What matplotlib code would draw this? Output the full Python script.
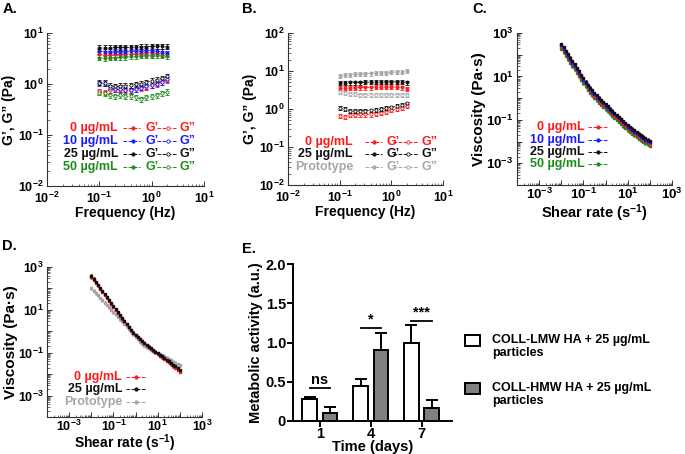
import matplotlib
matplotlib.use("Agg")
import matplotlib.pyplot as plt
from matplotlib.lines import Line2D
from matplotlib.patches import Rectangle
from matplotlib.ticker import LogLocator, FuncFormatter, NullFormatter
import numpy as np

plt.rcParams['font.family'] = ['Liberation Sans', 'DejaVu Sans']
plt.rcParams['font.weight'] = 'bold'
plt.rcParams['axes.labelweight'] = 'bold'
plt.rcParams['mathtext.fontset'] = 'custom'
plt.rcParams['mathtext.rm'] = 'Liberation Sans:bold'
plt.rcParams['mathtext.it'] = 'Liberation Sans:bold:italic'
plt.rcParams['mathtext.bf'] = 'Liberation Sans:bold'
plt.rcParams['mathtext.default'] = 'rm'

W, H = 685, 454

# ---------------- data ----------------
freq = [0.1, 0.126, 0.158, 0.2, 0.251, 0.316, 0.398, 0.501, 0.631, 0.794, 1.0, 1.26, 1.58, 2.0]

# panel A: G' (storage) and G'' (loss) for 0, 10, 25, 50 ug/mL
A_labels = ["0 µg/mL", "10 µg/mL", "25 µg/mL", "50 µg/mL"]
A_gp_0 = [3.8, 3.7, 3.7, 3.8, 3.8, 3.9, 3.9, 4.0, 4.0, 4.1, 4.1, 4.0, 3.9, 3.8]
A_gp_10 = [4.4, 4.3, 4.3, 4.3, 4.3, 4.3, 4.4, 4.4, 4.4, 4.5, 4.5, 4.4, 4.3, 4.0]
A_gp_25 = [5.1, 5.1, 5.1, 5.2, 5.2, 5.2, 5.2, 5.3, 5.4, 5.4, 5.5, 5.5, 5.5, 5.4]
A_gp_50 = [3.3, 3.2, 3.3, 3.3, 3.4, 3.4, 3.5, 3.5, 3.6, 3.6, 3.6, 3.7, 3.6, 3.5]
A_gpp_0 = [0.72, 0.68, 0.75, 0.78, 0.78, 0.76, 0.74, 0.80, 0.84, 0.88, 0.94, 1.00, 1.08, 1.20]
A_gpp_10 = [1.03, 1.02, 0.85, 0.80, 0.80, 0.78, 0.76, 0.80, 0.85, 0.90, 0.96, 1.02, 1.10, 1.25]
A_gpp_25 = [1.07, 1.05, 0.92, 0.90, 0.92, 0.93, 0.95, 0.98, 1.02, 1.08, 1.15, 1.22, 1.30, 1.42]
A_gpp_50 = [0.68, 0.66, 0.60, 0.58, 0.60, 0.57, 0.58, 0.55, 0.50, 0.55, 0.57, 0.60, 0.66, 0.70]
A_err = 0.12

# panel B: 0 ug/mL, 25 ug/mL and prototype
B_labels = ["0 µg/mL", "25 µg/mL", "Prototype"]
B_gp_0 = [3.6, 3.5, 3.6, 3.6, 3.7, 3.7, 3.7, 3.8, 3.8, 3.8, 3.8, 3.8, 3.7, 3.4]
B_gp_25 = [4.9, 4.9, 5.0, 5.0, 5.0, 5.1, 5.1, 5.1, 5.2, 5.2, 5.2, 5.2, 5.2, 5.0]
B_gp_proto = [7.4, 7.8, 8.0, 8.2, 8.3, 8.5, 8.6, 8.8, 8.9, 9.1, 9.3, 9.5, 9.7, 9.8]
B_gpp_0 = [0.66, 0.62, 0.68, 0.70, 0.72, 0.72, 0.72, 0.75, 0.80, 0.85, 0.92, 1.00, 1.08, 1.22]
B_gpp_25 = [1.05, 1.00, 0.88, 0.88, 0.90, 0.90, 0.92, 0.95, 0.98, 1.05, 1.10, 1.18, 1.25, 1.40]
B_gpp_proto = [2.75, 2.60, 2.50, 2.45, 2.40, 2.35, 2.35, 2.35, 2.35, 2.35, 2.35, 2.40, 2.40, 2.40]
B_err = 0.12

# panels C, D: viscosity vs shear rate
shear = [0.01, 0.0126, 0.0158, 0.02, 0.0251, 0.0316, 0.0398, 0.0501, 0.0631, 0.0794,
         0.1, 0.126, 0.158, 0.2, 0.251, 0.316, 0.398, 0.501, 0.631, 0.794,
         1.0, 1.26, 1.58, 2.0, 2.51, 3.16, 3.98, 5.01, 6.31, 7.94,
         10, 12.6, 15.8, 20, 25.1, 31.6, 39.8, 50.1, 63.1, 79.4, 100]

C_labels = ["0 µg/mL", "10 µg/mL", "25 µg/mL", "50 µg/mL"]
C_visc_0 = [234, 162, 112, 77.7, 53.6, 37.1, 26.3, 18.1, 12.6, 8.66,
            6.02, 4.26, 3.01, 2.23, 1.69, 1.29, 1.00, 0.777, 0.616, 0.489,
            0.389, 0.309, 0.245, 0.195, 0.155, 0.126, 0.0999, 0.0814, 0.0645, 0.0524,
            0.0416, 0.0346, 0.0288, 0.0240, 0.0204, 0.0169, 0.0144, 0.0123, 0.0104, 0.0091, 0.0079]
C_visc_10 = [275, 191, 131, 91.4, 63.0, 43.6, 30.9, 21.3, 14.8, 10.2,
             7.07, 5.00, 3.54, 2.63, 1.99, 1.51, 1.17, 0.914, 0.724, 0.575,
             0.457, 0.363, 0.288, 0.229, 0.182, 0.148, 0.117, 0.0957, 0.0758, 0.0616,
             0.0489, 0.0407, 0.0338, 0.0282, 0.0239, 0.0199, 0.0170, 0.0144, 0.0123, 0.0107, 0.0093]
C_visc_25 = [316, 219, 151, 105, 72.4, 50.1, 35.5, 24.5, 17.0, 11.7,
             8.13, 5.75, 4.07, 3.02, 2.29, 1.74, 1.35, 1.05, 0.832, 0.661,
             0.525, 0.417, 0.331, 0.263, 0.209, 0.170, 0.135, 0.110, 0.0871, 0.0708,
             0.0562, 0.0468, 0.0389, 0.0324, 0.0275, 0.0229, 0.0195, 0.0166, 0.0141, 0.0123, 0.0107]
C_visc_50 = [190, 131, 90.6, 63.0, 43.4, 30.1, 21.3, 14.7, 10.2, 7.02,
             4.88, 3.45, 2.44, 1.81, 1.37, 1.04, 0.81, 0.63, 0.499, 0.397,
             0.315, 0.250, 0.199, 0.158, 0.125, 0.102, 0.081, 0.066, 0.0523, 0.0425,
             0.0337, 0.0281, 0.0233, 0.0194, 0.0165, 0.0137, 0.0117, 0.0100, 0.0085, 0.0074, 0.0064]

D_labels = ["0 µg/mL", "25 µg/mL", "Prototype"]
D_visc_0 = [330, 250, 185, 138, 98, 71, 52, 37, 27, 19.5,
            14.2, 10.3, 7.5, 5.4, 3.95, 2.92, 2.15, 1.52, 1.12, 0.85,
            0.66, 0.52, 0.415, 0.335, 0.272, 0.221, 0.183, 0.151, 0.126, 0.106,
            0.088, 0.074, 0.062, 0.051, 0.043, 0.0355, 0.0292, 0.0240, 0.0198, 0.0163, 0.0128]
D_visc_25 = [398, 282, 200, 145, 102, 74.1, 53.7, 38.0, 27.5, 20.0,
             14.5, 10.5, 7.59, 5.50, 3.98, 2.95, 2.19, 1.55, 1.15, 0.871,
             0.676, 0.537, 0.427, 0.347, 0.282, 0.229, 0.191, 0.158, 0.132, 0.112,
             0.0933, 0.0794, 0.0676, 0.0562, 0.0479, 0.0398, 0.0331, 0.0275, 0.0229, 0.0191, 0.0151]
D_visc_proto = [100, 77.6, 60.3, 46.8, 36.3, 28.2, 21.9, 17.0, 13.2, 10.2,
                7.94, 6.17, 4.79, 3.72, 2.88, 2.24, 1.74, 1.32, 1.00, 0.741,
                0.550, 0.417, 0.324, 0.257, 0.214, 0.182, 0.158, 0.138, 0.123, 0.110,
                0.0977, 0.0871, 0.0776, 0.0676, 0.0589, 0.0513, 0.0447, 0.0389, 0.0339, 0.0295, 0.0257]
visc_err = 0.15

# panel E: metabolic activity
days = ["1", "4", "7"]
lmw_mean = [0.28, 0.44, 0.99]
lmw_err = [0.02, 0.10, 0.23]
hmw_mean = [0.10, 0.91, 0.16]
hmw_err = [0.075, 0.21, 0.11]
sig_text = ["ns", "*", "***"]
sig_height = [0.42, 1.19, 1.28]
E_legend = ["COLL-LMW HA + 25 µg/mL", "COLL-HMW HA + 25 µg/mL"]

# colours
RED = "#ff1a1a"
BLUE = "#1a1aff"
BLACK = "#111111"
GREEN = "#1a8c1a"
GRAY = "#a6a6a6"


def fx(x):
    return x / W


def fy(y):
    return 1 - y / H


def log_label(step=1):
    def f(v, pos):
        e = int(round(np.log10(v)))
        if e % step != (1 % step):
            return ""
        return r"$10^{%d}$" % e
    return FuncFormatter(f)


def style_log(ax, xlim, ylim, step=1, labelsize=9.5, xpad=2.5):
    ax.set_xscale("log")
    ax.set_yscale("log")
    ax.set_xlim(xlim)
    ax.set_ylim(ylim)
    for s in ["top", "right"]:
        ax.spines[s].set_visible(False)
    for s in ["left", "bottom"]:
        ax.spines[s].set_linewidth(0.8)
        ax.spines[s].set_color("#333333")
    for axis in (ax.xaxis, ax.yaxis):
        axis.set_major_locator(LogLocator(base=10, numticks=20))
        axis.set_minor_locator(LogLocator(base=10, subs=np.arange(2, 10), numticks=20))
        axis.set_minor_formatter(NullFormatter())
    ax.xaxis.set_major_formatter(log_label(step))
    ax.yaxis.set_major_formatter(log_label(step))
    ax.tick_params(which="both", direction="in", labelsize=labelsize, colors="#333333",
                   labelcolor="black", pad=2.5)
    ax.tick_params(axis="x", which="both", pad=xpad)
    ax.tick_params(which="major", length=3.5, width=0.7)
    ax.tick_params(which="minor", length=1.8, width=0.5)


def mod_series(ax, y, color, filled, err):
    y = np.array(y)
    ax.errorbar(freq, y, yerr=y * err, fmt="o", ls="--", color=color, lw=0.6,
                ms=2.2, mfc=color if filled else "white", mec=color, mew=0.6,
                elinewidth=0.6, capsize=1.5, capthick=0.6)


def visc_series(ax, y, color):
    y = np.array(y)
    ax.errorbar(shear, y, yerr=y * visc_err, fmt="s", ls="--", color=color, lw=0.5,
                ms=1.8, mfc=color, mec=color, elinewidth=0.5, capsize=1.0, capthick=0.5)


def legend_row(fig, y, label, color, x_right, segs, gtexts, fs=9):
    fig.text(fx(x_right), fy(y), label, color=color, fontsize=fs, ha="right", va="center",
             fontweight="bold")
    for (x0, x1, xm, filled), gt in zip(segs, gtexts):
        fig.add_artist(Line2D([fx(x0), fx(x1)], [fy(y), fy(y)], transform=fig.transFigure,
                              color=color, lw=0.7, ls="--"))
        fig.add_artist(Line2D([fx(xm)], [fy(y)], transform=fig.transFigure, color=color,
                              marker="o", ms=2.4, mfc=color if filled else "white",
                              mec=color, mew=0.6, ls="none"))
        if gt is not None:
            fig.text(fx(gt[0]), fy(y), gt[1], color=color, fontsize=fs, ha="left",
                     va="center", fontweight="bold")


fig = plt.figure(figsize=(W / 100, H / 100), dpi=100)

# ---------------- A ----------------
axA = fig.add_axes([fx(47), fy(186), fx(157), 153 / H])
A_gp = [A_gp_0, A_gp_10, A_gp_25, A_gp_50]
A_gpp = [A_gpp_0, A_gpp_10, A_gpp_25, A_gpp_50]
A_cols = [RED, BLUE, BLACK, GREEN]
for gp, gpp, c in zip(A_gp, A_gpp, A_cols):
    mod_series(axA, gp, c, True, A_err)
    mod_series(axA, gpp, c, False, A_err)
style_log(axA, (1e-2, 1e1), (1e-2, 1e1), labelsize=9, xpad=3.5)
axA.set_xlabel("Frequency (Hz)", fontsize=10, labelpad=0)
axA.set_ylabel("G’, G” (Pa)", fontsize=10, labelpad=1)
for lab, c, y in zip(A_labels, A_cols, [128, 141, 154, 167]):
    legend_row(fig, y, lab, c, 118,
               [(123, 140, 133, True), (157, 177, 168, False)],
               [(145, "G’"), (180, "G”")])

# ---------------- B ----------------
axB = fig.add_axes([fx(288), fy(185), fx(155), 152 / H])
B_gp = [B_gp_0, B_gp_25, B_gp_proto]
B_gpp = [B_gpp_0, B_gpp_25, B_gpp_proto]
B_cols = [RED, BLACK, GRAY]
for gp, gpp, c in zip(B_gp, B_gpp, B_cols):
    mod_series(axB, gp, c, True, B_err)
    mod_series(axB, gpp, c, False, B_err)
style_log(axB, (1e-2, 1e1), (1e-2, 1e2), labelsize=9, xpad=3.5)
axB.set_xlabel("Frequency (Hz)", fontsize=10, labelpad=0)
axB.set_ylabel("G’, G” (Pa)", fontsize=10, labelpad=1)
for lab, c, y in zip(B_labels, B_cols, [142, 154, 167]):
    legend_row(fig, y, lab, c, 353,
               [(365, 382, 374, True), (393, 418, 408, False)],
               [(387, "G’"), (422, "G”")])

# ---------------- C ----------------
axC = fig.add_axes([fx(517), fy(185), fx(155), 152 / H])
C_visc = [C_visc_50, C_visc_0, C_visc_10, C_visc_25]
C_cols = [GREEN, RED, BLUE, BLACK]
for v, c in zip(C_visc, C_cols):
    visc_series(axC, v, c)
style_log(axC, (1e-4, 1e3), (1e-4, 1e3), step=2, xpad=1.5)
axC.set_xlabel("Shear rate (s$^{-1}$)", fontsize=10.5, labelpad=0)
axC.set_ylabel("Viscosity (Pa·s)", fontsize=11, labelpad=0)
for lab, c, y in zip(C_labels, [RED, BLUE, BLACK, GREEN], [127, 140, 152, 164]):
    legend_row(fig, y, lab, c, 585, [(588, 607, 598, True)], [None])

# ---------------- D ----------------
axD = fig.add_axes([fx(47), fy(417), fx(155), 150 / H])
D_visc = [D_visc_proto, D_visc_0, D_visc_25]
D_cols = [GRAY, RED, BLACK]
for v, c in zip(D_visc, D_cols):
    visc_series(axD, v, c)
style_log(axD, (1e-4, 1e3), (1e-4, 1e3), step=2, labelsize=9, xpad=1.0)
axD.set_xlabel("Shear rate (s$^{-1}$)", fontsize=10, labelpad=-0.5)
axD.set_ylabel("Viscosity (Pa·s)", fontsize=11, labelpad=0)
for lab, c, y in zip(D_labels, [RED, BLACK, GRAY], [377, 389, 402]):
    legend_row(fig, y, lab, c, 122, [(126, 145, 136, True)], [None])

# ---------------- E ----------------
axE = fig.add_axes([fx(293), fy(421), fx(159), 157 / H])
x = np.arange(len(days))
bw = 0.29
axE.bar(x - 0.2, lmw_mean, bw, color="white", edgecolor="black", lw=1.4,
        yerr=[np.zeros(3), lmw_err], error_kw=dict(ecolor="black", elinewidth=1.4,
                                                   capsize=4, capthick=1.4))
axE.bar(x + 0.2, hmw_mean, bw, color="#808080", edgecolor="black", lw=1.4,
        yerr=[np.zeros(3), hmw_err], error_kw=dict(ecolor="black", elinewidth=1.4,
                                                   capsize=4, capthick=1.4))
for xi, t, h in zip(x, sig_text, sig_height):
    axE.plot([xi - 0.2, xi + 0.2], [h, h], color="black", lw=1.3)
    axE.text(xi, h + 0.01, t, ha="center", va="bottom", fontsize=10.5, fontweight="bold")
axE.set_xlim(-0.53, 2.6)
axE.set_ylim(0, 2.0)
axE.set_xticks(x)
axE.set_xticklabels(days)
axE.set_yticks([0, 0.5, 1.0, 1.5, 2.0])
axE.yaxis.set_major_formatter(FuncFormatter(lambda v, p: "0" if v == 0 else "%.1f" % v))
for s in ["top", "right"]:
    axE.spines[s].set_visible(False)
for s in ["left", "bottom"]:
    axE.spines[s].set_linewidth(1.4)
axE.tick_params(direction="out", length=4, width=1.4, labelsize=10.5, pad=1)
axE.tick_params(axis="x", pad=0.5)
axE.set_xlabel("Time (days)", fontsize=10.5, labelpad=-1)
axE.set_ylabel("Metabolic activity (a.u.)", fontsize=10.5, labelpad=2)

for (y, lab, col) in zip([340, 388], E_legend, ["white", "#808080"]):
    fig.add_artist(Rectangle((fx(465), fy(y + 5.5)), fx(15), 11 / H, transform=fig.transFigure,
                             facecolor=col, edgecolor="black", lw=1.4))
    fig.text(fx(492), fy(y), lab, fontsize=9, va="center", ha="left", fontweight="bold")
    fig.text(fx(492), fy(y + 13), "particles", fontsize=9, va="center", ha="left",
             fontweight="bold")

# panel letters
for (px, py, t) in [(3, 9, "A."), (242, 9, "B."), (472, 9, "C."), (2, 246, "D."), (242, 249, "E.")]:
    fig.text(fx(px), fy(py), t, fontsize=10.5, fontweight="bold", ha="left", va="center")

fig.savefig("out.png", dpi=100)
